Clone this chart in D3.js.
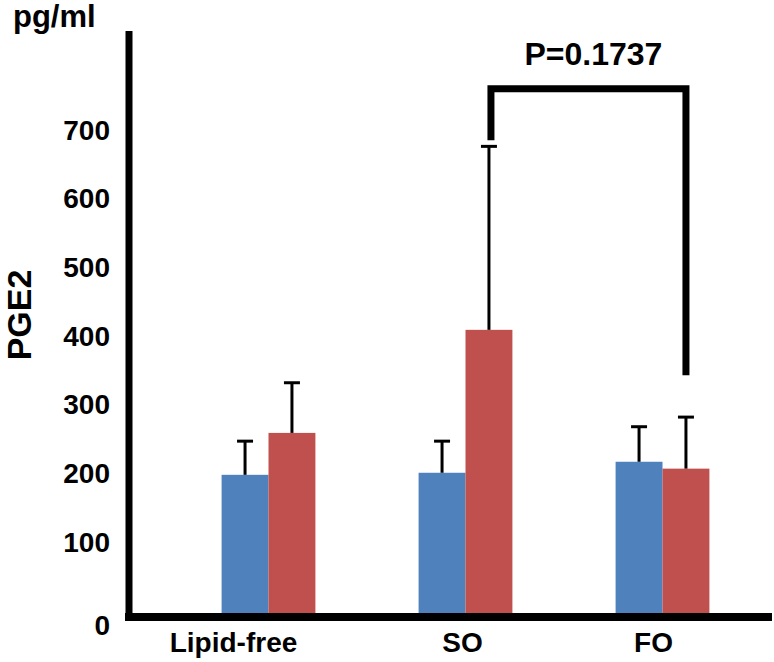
<!DOCTYPE html>
<html lang="en">
    <head>
        <meta charset="utf-8">
        <title>PGE2</title>
        <script type="text/javascript" src="https://cdn.jsdelivr.net/npm/d3@7/dist/d3.min.js"></script>
        <style type="text/css">
            body { margin: 0; background: #fff; }
            svg text {
                font-family: "Liberation Sans", Arial, sans-serif;
                font-weight: bold;
                fill: #000;
            }
        </style>
    </head>
    <body>
        <script type="text/javascript">
            var w = 774;
            var h = 662;

            // data
            var groups = ["Lipid-free", "SO", "FO"];
            var series = ["blue", "red"];
            var blueValues = [204, 207, 223];
            var redValues = [265, 415, 213];
            var blueErrors = [49, 46, 51];
            var redErrors = [73, 267, 75];
            var yTicks = [0, 100, 200, 300, 400, 500, 600, 700];
            var pLabel = "P=0.1737";
            // bracket: SO red -> FO red, leg ends and top in axis units
            var bracketFrom = ["SO", "red"];
            var bracketTo = ["FO", "red"];
            var bracketLevels = [691, 766, 349];

            var colors = { blue: "#4F81BD", red: "#C0504D" };

            var svg = d3.select("body").append("svg")
                .attr("width", w)
                .attr("height", h);

            // scales
            var yScale = d3.scaleLinear()
                .domain([0, 700])
                .range([615, 134]);

            var x0 = d3.scaleBand()
                .domain(groups)
                .range([170, 761])
                .padding(0);

            var x1 = d3.scaleBand()
                .domain(series)
                .range([0, x0.bandwidth()])
                .paddingInner(0)
                .paddingOuter(1.1);

            var rows = groups.map(function(g, i) {
                return [
                    { group: g, key: "blue", value: blueValues[i], err: blueErrors[i] },
                    { group: g, key: "red", value: redValues[i], err: redErrors[i] }
                ];
            });
            var flat = [].concat.apply([], rows);

            // bars
            svg.selectAll("rect.bar")
                .data(flat)
                .enter()
                .append("rect")
                .attr("class", "bar")
                .attr("x", function(d) { return x0(d.group) + x1(d.key); })
                .attr("y", function(d) { return yScale(d.value); })
                .attr("width", x1.bandwidth())
                .attr("height", function(d) { return yScale(0) - yScale(d.value); })
                .attr("fill", function(d) { return colors[d.key]; });

            // error bars (upper only)
            function cx(d) { return x0(d.group) + x1(d.key) + x1.bandwidth() / 2; }

            svg.selectAll("line.err")
                .data(flat)
                .enter()
                .append("line")
                .attr("class", "err")
                .attr("x1", cx)
                .attr("x2", cx)
                .attr("y1", function(d) { return yScale(d.value); })
                .attr("y2", function(d) { return yScale(d.value + d.err); })
                .attr("stroke", "#000")
                .attr("stroke-width", 3);

            svg.selectAll("line.cap")
                .data(flat)
                .enter()
                .append("line")
                .attr("class", "cap")
                .attr("x1", function(d) { return cx(d) - 8; })
                .attr("x2", function(d) { return cx(d) + 8; })
                .attr("y1", function(d) { return yScale(d.value + d.err); })
                .attr("y2", function(d) { return yScale(d.value + d.err); })
                .attr("stroke", "#000")
                .attr("stroke-width", 3);

            // y axis (labels only, line drawn separately)
            var yAxis = d3.axisLeft(yScale).tickValues(yTicks).tickSize(0);
            var gy = svg.append("g")
                .attr("transform", "translate(129,0)")
                .call(yAxis);
            gy.select(".domain").remove();
            gy.selectAll("text")
                .attr("x", -19)
                .attr("dy", function(d) { return d === 0 ? "0.68em" : "0.18em"; })
                .style("font-size", "28px")
                .style("font-family", null);

            // x axis labels
            var labelNudge = { "Lipid-free": -35, "SO": -3, "FO": -9 };
            var xAxis = d3.axisBottom(x0).tickSize(0);
            var gx = svg.append("g")
                .attr("transform", "translate(0," + yScale(0) + ")")
                .call(xAxis);
            gx.select(".domain").remove();
            gx.selectAll("text")
                .attr("y", 37)
                .attr("dy", null)
                .attr("dx", function(d) { return labelNudge[d]; })
                .style("font-size", "28px")
                .style("font-family", null);

            // heavy axis lines
            svg.append("line")
                .attr("x1", 129).attr("x2", 129)
                .attr("y1", yScale(850)).attr("y2", yScale(0) + 6)
                .attr("stroke", "#000").attr("stroke-width", 7);
            svg.append("line")
                .attr("x1", 125).attr("x2", 772)
                .attr("y1", yScale(0) + 2).attr("y2", yScale(0) + 2)
                .attr("stroke", "#000").attr("stroke-width", 8);

            // significance bracket
            var bx1 = x0(bracketFrom[0]) + x1(bracketFrom[1]) + x1.bandwidth() / 2 + 2;
            var bx2 = x0(bracketTo[0]) + x1(bracketTo[1]) + x1.bandwidth() / 2;
            var bracket = d3.path();
            bracket.moveTo(bx1, yScale(bracketLevels[0]));
            bracket.lineTo(bx1, yScale(bracketLevels[1]));
            bracket.lineTo(bx2, yScale(bracketLevels[1]));
            bracket.lineTo(bx2, yScale(bracketLevels[2]));
            svg.append("path")
                .attr("d", bracket.toString())
                .attr("fill", "none")
                .attr("stroke", "#000")
                .attr("stroke-width", 7)
                .attr("stroke-linejoin", "miter");

            svg.append("text")
                .attr("x", (bx1 + bx2) / 2 + 5)
                .attr("y", 65)
                .attr("text-anchor", "middle")
                .style("font-size", "32px")
                .text(pLabel);

            // unit and axis title
            svg.append("text")
                .attr("x", 13)
                .attr("y", 27)
                .style("font-size", "31px")
                .text("pg/ml");

            svg.append("text")
                .attr("transform", "translate(31,315) rotate(-90)")
                .attr("text-anchor", "middle")
                .style("font-size", "34px")
                .text("PGE2");
        </script>
    </body>
</html>
